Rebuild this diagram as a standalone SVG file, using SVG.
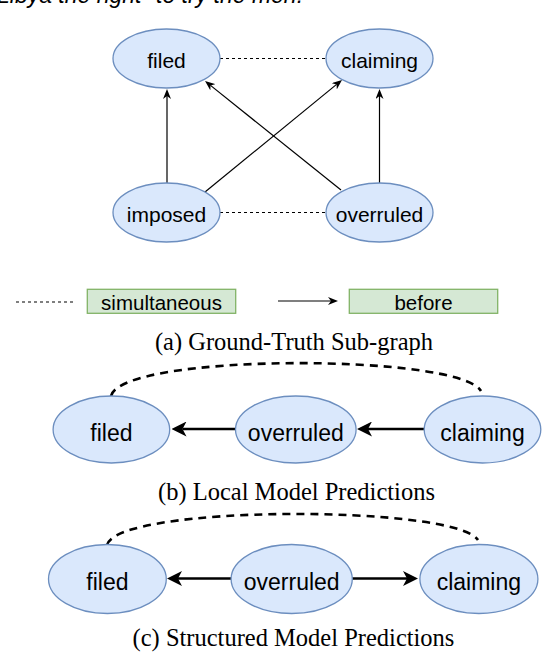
<svg xmlns="http://www.w3.org/2000/svg" width="542" height="652" viewBox="0 0 542 652">
<style>
.node{fill:#dae8fc;stroke:#6c8ebf;stroke-width:1.3}
.lbl{font-family:"Liberation Sans",Arial,sans-serif;fill:#000;text-anchor:middle}
.t21{font-size:21px}
.t23{font-size:23px}
.cap{font-family:"Liberation Serif","Times New Roman",serif;font-size:24.5px;fill:#000;text-anchor:middle}
.leg{fill:#d5e8d4;stroke:#82b366;stroke-width:1.3}
.thin{stroke:#000;stroke-width:1.2;fill:none}
.thindash{stroke:#000;stroke-width:1.1;fill:none;stroke-dasharray:3 3}
.thick{stroke:#000;stroke-width:2.6;fill:none}
.thickdash{stroke:#000;stroke-width:2.6;fill:none;stroke-dasharray:8 6}
</style>
<defs>
<marker id="ah" markerUnits="userSpaceOnUse" viewBox="0 0 10 8" markerWidth="10" markerHeight="8" refX="3" refY="4" orient="auto">
<path d="M0,0 L10,4 L0,8 L3,4 z" fill="#000"/>
</marker>
<marker id="AH" markerUnits="userSpaceOnUse" viewBox="0 0 15 15" markerWidth="15" markerHeight="15" refX="4" refY="7.5" orient="auto">
<path d="M0,0 L15,7.5 L0,15 L4,7.5 z" fill="#000"/>
</marker>
</defs>

<text x="-3" y="3" font-family="Liberation Sans,Arial,sans-serif" font-size="23" font-style="italic" fill="#000">Libya the right" to try the men.</text>

<g id="connectors">
<line class="thindash" x1="220" y1="58.5" x2="326" y2="58.5"/>
<line class="thindash" x1="220" y1="212.5" x2="326" y2="212.5"/>
<line class="thin" x1="167" y1="183" x2="167" y2="96" marker-end="url(#ah)"/>
<line class="thin" x1="379.5" y1="183" x2="379.5" y2="96" marker-end="url(#ah)"/>
<line class="thin" x1="205" y1="192" x2="336.6" y2="84.4" marker-end="url(#ah)"/>
<line class="thin" x1="341" y1="190" x2="210.5" y2="85.4" marker-end="url(#ah)"/>
<line class="thindash" x1="16" y1="302" x2="75" y2="302"/>
<line class="thin" x1="278" y1="301" x2="331" y2="301" marker-end="url(#ah)"/>
<path class="thickdash" d="M111,396 C121,353 458,353 481,391"/>
<line class="thick" x1="424" y1="429" x2="368" y2="429" marker-end="url(#AH)"/>
<line class="thick" x1="235.5" y1="429" x2="182.5" y2="429" marker-end="url(#AH)"/>
<path class="thickdash" d="M107,545 C117,504.5 455,504.5 478,540"/>
<line class="thick" x1="231" y1="578.5" x2="178" y2="578.5" marker-end="url(#AH)"/>
<line class="thick" x1="352" y1="578.5" x2="407" y2="578.5" marker-end="url(#AH)"/>
</g>

<g id="a-filed"><ellipse class="node" cx="166.5" cy="58.5" rx="53.5" ry="29.5"/><text class="lbl t21" x="166.5" y="68">filed</text></g>
<g id="a-claiming"><ellipse class="node" cx="379.5" cy="58.5" rx="53.5" ry="29.5"/><text class="lbl t21" x="379.5" y="68">claiming</text></g>
<g id="a-imposed"><ellipse class="node" cx="166.5" cy="212.5" rx="53.5" ry="29.5"/><text class="lbl t21" x="166.5" y="222">imposed</text></g>
<g id="a-overruled"><ellipse class="node" cx="379.5" cy="212.5" rx="53.5" ry="29.5"/><text class="lbl t21" x="379.5" y="222">overruled</text></g>

<g id="legend-sim"><rect class="leg" x="87.3" y="289.3" width="148.4" height="24"/><text class="lbl" font-size="20.5" x="161.5" y="310">simultaneous</text></g>
<g id="legend-before"><rect class="leg" x="349.3" y="289.3" width="148.4" height="24"/><text class="lbl" font-size="20.5" x="423.5" y="310">before</text></g>

<text class="cap" x="294" y="350">(a) Ground-Truth Sub-graph</text>

<g id="b-filed"><ellipse class="node" cx="111.4" cy="429.5" rx="58.3" ry="33.5"/><text class="lbl t23" x="111.4" y="440.5">filed</text></g>
<g id="b-overruled"><ellipse class="node" cx="295.8" cy="429.5" rx="60.3" ry="33.5"/><text class="lbl t23" x="295.8" y="440.5">overruled</text></g>
<g id="b-claiming"><ellipse class="node" cx="482.5" cy="429.5" rx="58.3" ry="33.5"/><text class="lbl t23" x="482.5" y="440.5">claiming</text></g>

<text class="cap" x="296.5" y="500">(b) Local Model Predictions</text>

<g id="c-filed"><ellipse class="node" cx="107.4" cy="579" rx="58.9" ry="34.5"/><text class="lbl t23" x="107.4" y="590">filed</text></g>
<g id="c-overruled"><ellipse class="node" cx="291.7" cy="579" rx="60.6" ry="34.5"/><text class="lbl t23" x="291.7" y="590">overruled</text></g>
<g id="c-claiming"><ellipse class="node" cx="478.9" cy="579" rx="59" ry="34.5"/><text class="lbl t23" x="478.9" y="590">claiming</text></g>

<text class="cap" x="293.5" y="646">(c) Structured Model Predictions</text>
</svg>
